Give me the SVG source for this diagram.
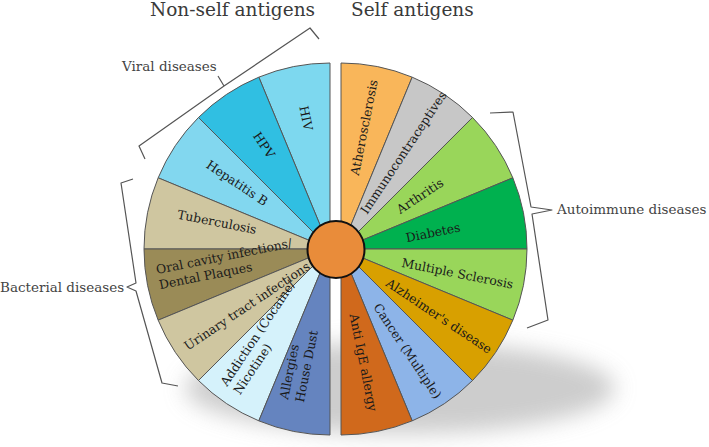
<svg xmlns="http://www.w3.org/2000/svg" width="709" height="447" viewBox="0 0 709 447">
<defs>
<filter id="blur" x="-30%" y="-60%" width="160%" height="220%"><feGaussianBlur stdDeviation="11"/></filter>
<style>
.seg{stroke:#555;stroke-width:1}
.lbl{font-family:"DejaVu Serif","Liberation Serif",serif;font-size:12.4px;fill:#1a1a1a}
.c{text-anchor:middle}
.title{font-family:"DejaVu Serif","Liberation Serif",serif;font-size:18.5px;fill:#3a3a3a}
.grp{font-family:"DejaVu Serif","Liberation Serif",serif;font-size:13.5px;fill:#444}
.br{fill:none;stroke:#555;stroke-width:1.2;stroke-linejoin:round}
</style>
</defs>
<rect width="709" height="447" fill="#fff"/>
<ellipse cx="400" cy="388" rx="215" ry="46" fill="#b8b8b8" opacity="0.7" filter="url(#blur)"/>

<text class="title" x="150" y="16">Non-self antigens</text>
<text class="title" x="351" y="16">Self antigens</text>

<g id="hiv"><path class="seg" fill="#7dd8ef" d="M330,249 L330,63 A186,186 0 0 0 258.82,77.16 Z"/><text class="lbl c" dy="0.35em" transform="translate(306,118) rotate(78.75)">HIV</text></g>
<g id="hpv"><path class="seg" fill="#30bfe2" d="M330,249 L258.82,77.16 A186,186 0 0 0 198.48,117.48 Z"/><text class="lbl c" dy="0.35em" transform="translate(264,145) rotate(56.25)">HPV</text></g>
<g id="hepb"><path class="seg" fill="#82d7ef" d="M330,249 L198.48,117.48 A186,186 0 0 0 158.16,177.82 Z"/><text class="lbl c" dy="0.35em" transform="translate(237,183) rotate(33.75)">Hepatitis B</text></g>
<g id="tb"><path class="seg" fill="#cfc6a0" d="M330,249 L158.16,177.82 A186,186 0 0 0 144,249 Z"/><text class="lbl c" dy="0.35em" transform="translate(217,222) rotate(11.25)">Tuberculosis</text></g>
<g id="oral"><path class="seg" fill="#9a8b57" d="M330,249 L144,249 A186,186 0 0 0 158.16,320.18 Z"/><text class="lbl" transform="translate(157,274) rotate(-11.25)"><tspan x="0" y="0">Oral cavity infections/</tspan><tspan x="0" y="15.5">Dental Plaques</tspan></text></g>
<g id="urinary"><path class="seg" fill="#cfc6a0" d="M330,249 L158.16,320.18 A186,186 0 0 0 198.48,380.52 Z"/><text class="lbl c" dy="0.35em" transform="translate(247,306) rotate(-33.75)">Urinary tract infections</text></g>
<g id="addiction"><path class="seg" fill="#d5f2fb" d="M330,249 L198.48,380.52 A186,186 0 0 0 258.82,420.84 Z"/><text class="lbl" transform="translate(227,387) rotate(-56.25)"><tspan x="0" y="0">Addiction (Cocaine/</tspan><tspan x="0" y="15.5">Nicotine)</tspan></text></g>
<g id="allergies"><path class="seg" fill="#6584bf" d="M330,249 L258.82,420.84 A186,186 0 0 0 330,435 Z"/><text class="lbl" transform="translate(288,400) rotate(-78.75)"><tspan x="0" y="0">Allergies</tspan><tspan x="0" y="16">House Dust</tspan></text></g>

<g id="athero"><path class="seg" fill="#f9b65a" d="M341,249 L341,63 A186,186 0 0 1 412.18,77.16 Z"/><text class="lbl c" dy="0.35em" transform="translate(364,127.5) rotate(-78.75)">Atherosclerosis</text></g>
<g id="immuno"><path class="seg" fill="#c7c7c7" d="M341,249 L412.18,77.16 A186,186 0 0 1 472.52,117.48 Z"/><text class="lbl c" dy="0.35em" transform="translate(403.5,152.5) rotate(-56.25)">Immunocontraceptives</text></g>
<g id="arthritis"><path class="seg" fill="#99d65a" d="M341,249 L472.52,117.48 A186,186 0 0 1 512.84,177.82 Z"/><text class="lbl c" dy="0.35em" transform="translate(420,196) rotate(-33.75)">Arthritis</text></g>
<g id="diabetes"><path class="seg" fill="#00b14f" d="M341,249 L512.84,177.82 A186,186 0 0 1 527,249 Z"/><text class="lbl c" dy="0.35em" transform="translate(433,232.5) rotate(-11.25)">Diabetes</text></g>
<g id="ms"><path class="seg" fill="#99d65a" d="M341,249 L527,249 A186,186 0 0 1 512.84,320.18 Z"/><text class="lbl c" dy="0.35em" transform="translate(457.5,273.5) rotate(11.25)">Multiple Sclerosis</text></g>
<g id="alzheimer"><path class="seg" fill="#d8a000" d="M341,249 L512.84,320.18 A186,186 0 0 1 472.52,380.52 Z"/><text class="lbl c" dy="0.35em" transform="translate(439,316) rotate(33.75)">Alzheimer's disease</text></g>
<g id="cancer"><path class="seg" fill="#8db4e8" d="M341,249 L472.52,380.52 A186,186 0 0 1 412.18,420.84 Z"/><text class="lbl c" dy="0.35em" transform="translate(407.5,351) rotate(56.25)">Cancer (Multiple)</text></g>
<g id="antiige"><path class="seg" fill="#d0691c" d="M341,249 L412.18,420.84 A186,186 0 0 1 341,435 Z"/><text class="lbl c" dy="0.35em" transform="translate(363.5,362.5) rotate(78.75)">Anti IgE allergy</text></g>

<g id="center"><circle cx="336" cy="249.5" r="28.5" fill="#e98c3a" stroke="#111" stroke-width="2"/></g>

<g id="connectors">
<path class="br" d="M145,159 L139,146 L224,86 L218,76 M224,86 L310,28 L319,39"/>
<path class="br" d="M133,179 L121,183 L136,283 L127,287 L136,291 L162,383 L178,386"/>
<path class="br" d="M490,113 L513,112 L531,207 L552,210 L532,214 L548,320 L527,328"/>
</g>
<g id="viral"><text class="grp" x="122" y="71">Viral diseases</text></g>
<g id="bacterial"><text class="grp" x="0" y="292">Bacterial diseases</text></g>
<g id="autoimmune"><text class="grp" x="557" y="214">Autoimmune diseases</text></g>
</svg>
